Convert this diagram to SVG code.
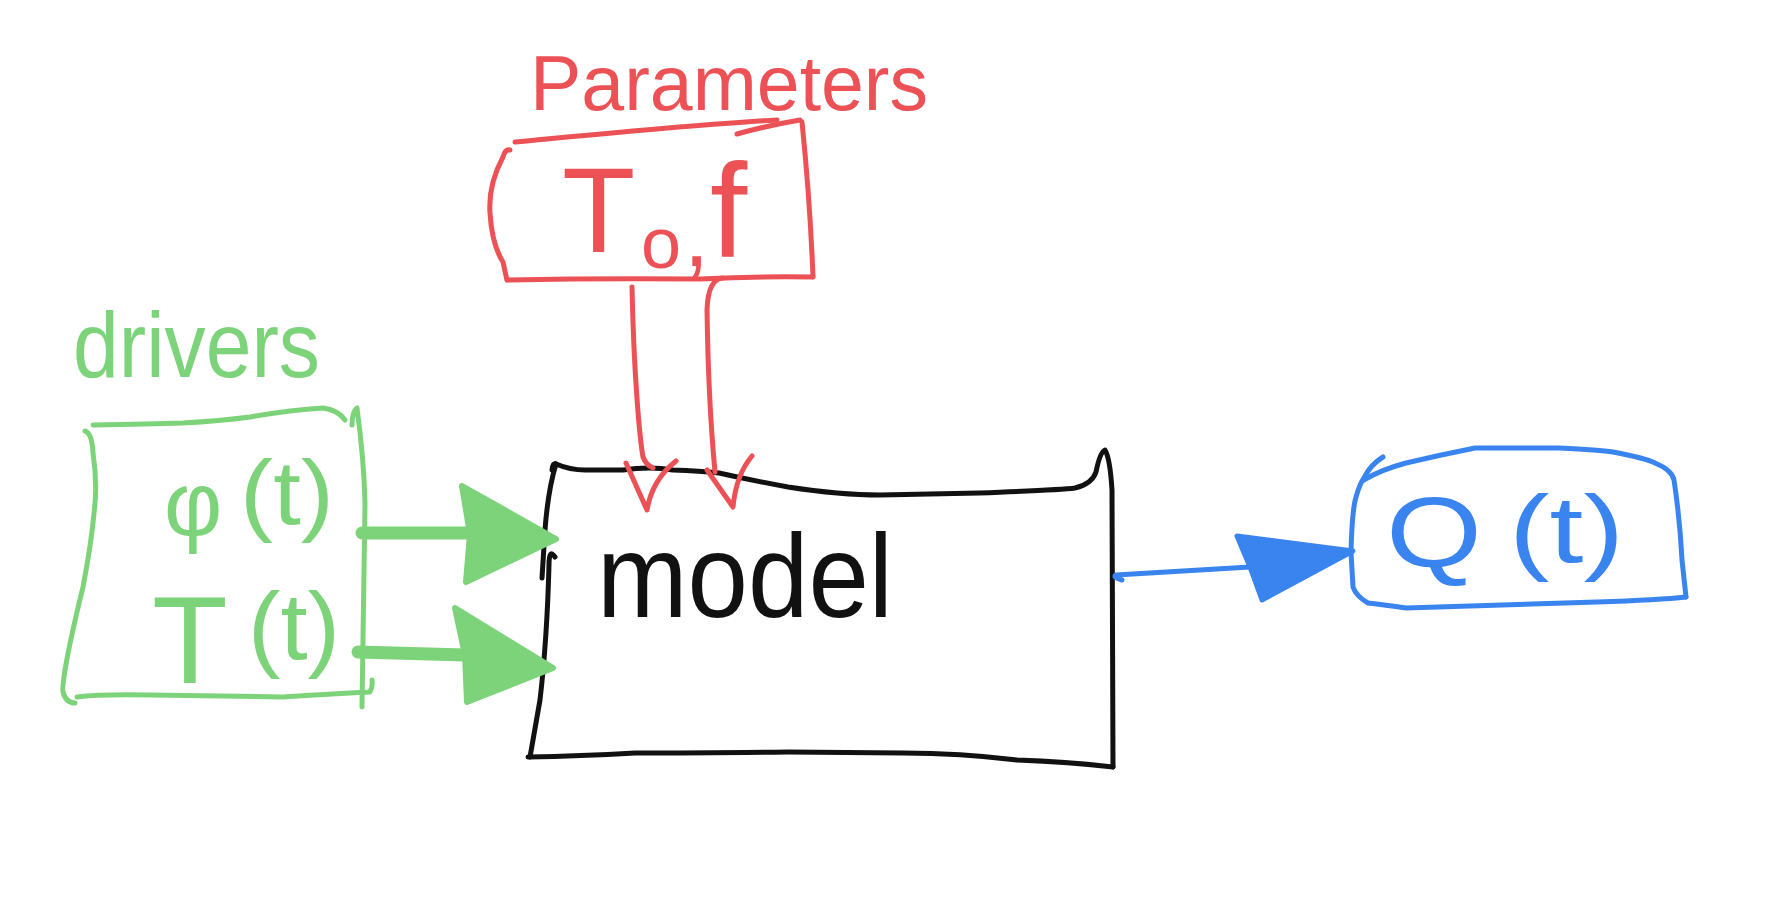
<svg xmlns="http://www.w3.org/2000/svg" width="1776" height="908" viewBox="0 0 1776 908">
<style>
.ink{fill:none;stroke-width:5;stroke-linecap:round;stroke-linejoin:round}
.red{stroke:#EC5156}
.green{stroke:#7DD37A}
.blue{stroke:#3984EE}
.black{stroke:#111111}
.shaft{stroke-width:13}
.t{font-family:"Liberation Sans",Arial,sans-serif}
.tred{fill:#EC5156}
.tgreen{fill:#7DD37A}
.tblue{fill:#3984EE}
.tblack{fill:#111111}
.headg{fill:#7DD37A;stroke:#7DD37A;stroke-width:6;stroke-linejoin:round}
.headb{fill:#3984EE;stroke:#3984EE;stroke-width:5;stroke-linejoin:round}
</style>
<rect width="1776" height="908" fill="#ffffff"/>

<g id="parameters">
<text class="t tred" x="530" y="110" font-size="78" textLength="398" lengthAdjust="spacingAndGlyphs">Parameters</text>
<path class="ink red" d="M515,142 C600,134 700,124 777,120"/>
<path class="ink red" d="M737,134 Q770,125 800,120"/>
<path class="ink red" d="M510,150 Q505,149 503,157 Q488,185 490,213 Q492,245 503,262 Q506,276 507,280"/>
<path class="ink red" d="M802,122 Q810,200 813,277"/>
<path class="ink red" d="M507,280 Q600,278 700,279 Q760,276 813,277"/>
<text class="t tred" font-size="120"><tspan x="562" y="252">T</tspan><tspan x="641" y="268" font-size="72">o</tspan><tspan x="684" y="266" font-size="90">,</tspan><tspan x="710" y="257" font-size="134">f</tspan></text>
</g>

<g id="drivers">
<text class="t tgreen" x="73" y="377" font-size="92" textLength="247" lengthAdjust="spacingAndGlyphs">drivers</text>
<path class="ink green" d="M93,425 Q150,424 183,423 Q220,421 250,417 Q290,410 323,408 Q338,410 345,420"/>
<path class="ink green" d="M352,425 Q352,412 357,408 Q364,460 365,503 L362,707"/>
<path class="ink green" d="M85,431 Q92,433 93,453 Q97,480 95,503 Q92,540 83,587 Q70,640 65,670 Q62,690 63,692 Q66,703 75,703"/>
<path class="ink green" d="M77,697 Q100,694 150,695 L283,697 Q330,694 370,692 Q373,686 372,680"/>
<text class="t tgreen" font-size="90"><tspan x="164" y="535">φ</tspan><tspan x="240" y="524" textLength="94" lengthAdjust="spacingAndGlyphs">(t)</tspan></text>
<text class="t tgreen" font-size="95"><tspan x="152" y="683" font-size="124">T</tspan><tspan x="248" y="659" textLength="92" lengthAdjust="spacingAndGlyphs">(t)</tspan></text>
</g>

<g id="model">
<path class="ink black" d="M552,470 Q553,462 556,464 Q570,470 585,470 L623,470 Q650,466 673,470 Q700,471 719,473 Q750,480 788,487 Q840,495 880,495 L979,493 Q1060,490 1075,488 Q1092,484 1096,472 Q1100,452 1105,450 Q1110,458 1112,490 L1113,767"/>
<path class="ink black" d="M1113,767 Q1070,762 1017,760 Q960,753 903,753 L788,752 Q700,753 635,753 Q580,756 528,757"/>
<path class="ink black" d="M556,464 Q548,490 545,530 L542,578"/>
<path class="ink black" d="M555,557 Q549,548 549,565 Q547,640 540,700 Q533,740 530,757"/>
<text class="t tblack" x="597" y="617" font-size="118" textLength="296" lengthAdjust="spacingAndGlyphs">model</text>
</g>

<g id="output">
<path class="ink blue" d="M1383,457 Q1370,465 1364,478"/>
<path class="ink blue" d="M1364,480 Q1380,470 1406,463 Q1440,455 1475,448 L1559,448 Q1600,450 1613,452 Q1645,458 1655,463 Q1672,470 1674,480 Q1680,520 1682,560 L1686,597"/>
<path class="ink blue" d="M1686,597 Q1660,600 1597,602 L1406,608 Q1385,605 1368,603 Q1356,596 1353,587 L1351,553 Q1352,510 1356,497 Q1360,483 1364,478"/>
<text class="t tblue" font-size="95"><tspan x="1386" y="567" font-size="100" textLength="96" lengthAdjust="spacingAndGlyphs">Q</tspan><tspan x="1509" y="562" textLength="115" lengthAdjust="spacingAndGlyphs">(t)</tspan></text>
</g>

<g id="connectors">
<path class="ink red" d="M632,287 C634,380 640,440 643,457 Q646,465 653,468"/>
<path class="ink red" d="M626,463 L647,510 Q652,480 676,461"/>
<path class="ink red" d="M722,278 Q708,280 707,310 C708,380 712,440 715,472"/>
<path class="ink red" d="M707,470 L733,507 Q736,475 752,456"/>

<path class="ink green shaft" d="M362,533 L470,533"/>
<polygon class="headg" points="462,486 556,539 466,582 470,534"/>
<path class="ink green shaft" d="M358,652 L465,655"/>
<polygon class="headg" points="455,608 553,668 467,702 465,655"/>

<path class="ink blue" d="M1122,580 Q1112,577 1116,575 L1250,567"/>
<polygon class="headb" points="1237,536 1353,551 1262,600 1250,567"/>
</g>
</svg>
